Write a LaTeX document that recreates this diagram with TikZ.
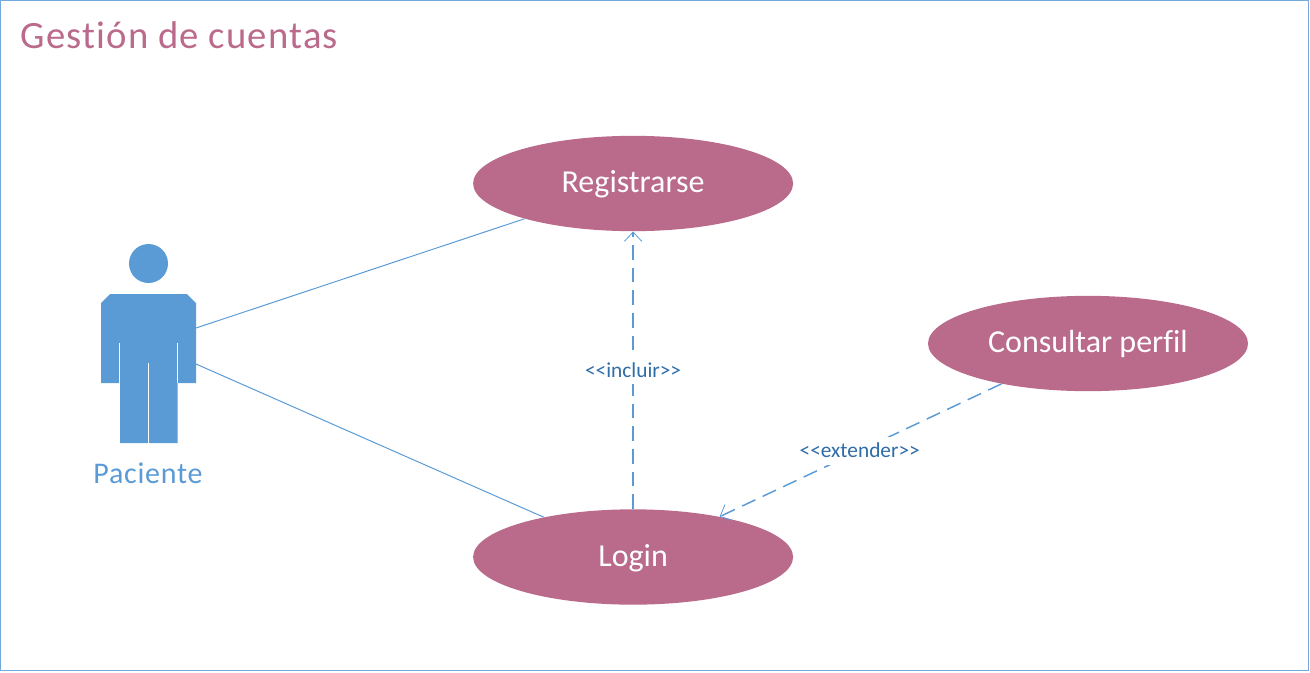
\documentclass[tikz,border=0pt]{standalone}
\usepackage{fontspec}
\setmainfont[Ligatures=NoCommon]{Carlito}
\usetikzlibrary{shapes.geometric,arrows.meta,calc}
\definecolor{rosa}{HTML}{BA6A8A}
\definecolor{azul}{HTML}{5B9BD5}
\definecolor{azuloscuro}{HTML}{2E6DA8}
\tikzset{
  caso/.style={ellipse,fill=rosa,text=white,minimum width=240pt,minimum height=71.5pt,inner sep=0pt,text height=19.1pt,text depth=5pt,font=\fontsize{24}{28}\selectfont},
  asoc/.style={azul,line width=0.75pt},
  dep/.style={draw=azul,line width=1.1pt,dash pattern=on 11pt off 6pt,-{Straight Barb[length=7pt,width=13pt,line width=0.6pt]}},
  etiqueta/.style={fill=white,text=azuloscuro,inner xsep=1pt,inner ysep=0pt,minimum height=21pt,font=\fontsize{16}{18}\selectfont},
}
\begin{document}
\begin{tikzpicture}[x=0.75pt,y=-0.75pt]
\useasboundingbox (0,0) rectangle (1310,672);
\node[draw=azul!85,line width=0.8pt,minimum width=981pt,minimum height=502pt,inner sep=0pt] (marco) at (654.5,335.5) {};
\node[anchor=west,text=rosa,font=\fontsize{29}{34}\selectfont] (titulo) at (16,35) {\addfontfeatures{LetterSpace=3}Gestión de cuentas};
% actor
\fill[azul] (148.5,263.5) circle[radius=19.5];
\fill[azul] (110,294) -- (187,294) -- (196,303) -- (196,383) -- (177.5,383) -- (177.5,443) -- (149.2,443) -- (149.2,363) -- (147.8,363) -- (147.8,443) -- (120,443) -- (120,383) -- (101,383) -- (101,303) -- cycle;
\draw[white,line width=0.7pt] (119.7,343) -- (119.7,383) (177.2,343) -- (177.2,383);
\coordinate (brazoA) at (196,328);
\coordinate (brazoB) at (196,364);
\node[text=azul,font=\fontsize{22.5}{26}\selectfont] (paciente) at (148,473) {\addfontfeatures{LetterSpace=2.5}Paciente};
% casos
\node[caso] (reg) at (633.1,183.5) {Registrarse};
\node[caso] (log) at (633.1,557) {Login};
\node[caso] (con) at (1088,343.5) {Consultar perfil};
% conectores
\draw[asoc] (brazoA) -- (reg.198.3);
\draw[asoc] (brazoB) -- (log.156.3);
\draw[dep] (log.north) -- node[etiqueta,pos=0.5] (incl) {<{}<incluir>{}>} (reg.south);
\draw[dep] (con.205.2) -- node[etiqueta,pos=0.503] (ext) {<{}<extender>{}>} (log.25.3);
\end{tikzpicture}
\end{document}
